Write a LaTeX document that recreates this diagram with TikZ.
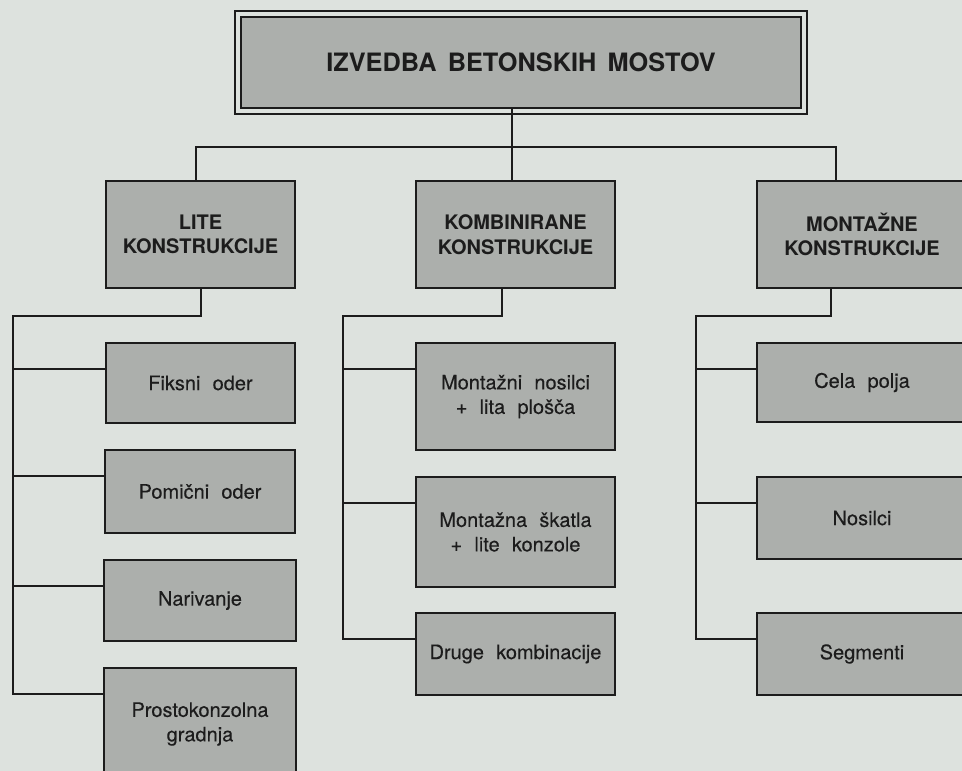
\documentclass[tikz,border=0pt]{standalone}
\usepackage{fontspec}
\setmainfont{TeX Gyre Heros}
\newfontfamily\wideheros[WordSpace=1.6]{TeX Gyre Heros}
\newfontfamily\leafheros[WordSpace=2.2,FakeBold=0.25]{TeX Gyre Heros}
\definecolor{bg}{RGB}{221,226,222}
\definecolor{boxfill}{RGB}{172,175,172}
\definecolor{ink}{RGB}{28,28,28}
\tikzset{
  conn/.style={draw=ink, line width=2pt},
  box/.style={draw=ink, line width=2.2pt, fill=boxfill, text=ink, align=center, inner sep=0pt},
  topstyle/.style={box, font=\wideheros\fontsize{25.3}{30}\selectfont\bfseries},
  lvltwo/.style={box, font=\fontsize{20}{24.5}\selectfont\bfseries},
  leaf/.style={box, font=\leafheros\fontsize{20}{24.5}\selectfont},
}
\begin{document}
\begin{tikzpicture}[x=1pt,y=-1pt]
\useasboundingbox (0,0) rectangle (962,771);
\fill[bg] (0,0) rectangle (962,771);
\begin{scope}
\clip (0,0) rectangle (962,771);
% top
\node[topstyle, minimum width=560pt, minimum height=91pt] (topbox) at (521,62.5) {IZVEDBA BETONSKIH MOSTOV};
\draw[draw=ink, line width=2pt] ([shift={(-5pt,5pt)}]topbox.north west) rectangle ([shift={(5pt,-5pt)}]topbox.south east);
% level 2
\node[lvltwo, minimum width=189pt, minimum height=107pt] (lite) at (200.5,234.5) {LITE\\KONSTRUKCIJE};
\node[lvltwo, minimum width=199pt, minimum height=107pt] (kom) at (515.5,234.5) {KOMBINIRANE\\KONSTRUKCIJE};
\node[lvltwo, minimum width=210pt, minimum height=107pt] (mont) at (862,234.5) {MONTAŽNE\\KONSTRUKCIJE};
% left leaves
\node[leaf, minimum width=189pt, minimum height=80pt] (fik) at (200.5,383) {Fiksni oder};
\node[leaf, minimum width=190pt, minimum height=83pt] (pom) at (200,491.5) {Pomični oder};
\node[leaf, minimum width=192pt, minimum height=81pt] (nar) at (200,600.5) {Narivanje};
\node[leaf, minimum width=192pt, minimum height=112pt] (pro) at (200,724) {Prostokonzolna\\gradnja};
% middle leaves
\node[leaf, minimum width=199pt, minimum height=107pt] (mnos) at (515.5,396.5) {Montažni nosilci\\+ lita plošča};
\node[leaf, minimum width=199pt, minimum height=110pt] (msk) at (515.5,532) {Montažna škatla\\+ lite konzole};
\node[leaf, minimum width=199pt, minimum height=82pt] (dru) at (515.5,654) {Druge kombinacije};
% right leaves
\node[leaf, minimum width=210pt, minimum height=79pt] (cel) at (862,382.5) {Cela polja};
\node[leaf, minimum width=210pt, minimum height=82pt] (nos) at (862,518) {Nosilci};
\node[leaf, minimum width=210pt, minimum height=82pt] (seg) at (862,654) {Segmenti};
% helper coordinates
\coordinate (busy) at (0,146.5);
\coordinate (lx) at (196,0);
\coordinate (cx) at (512,0);
\coordinate (rx) at (836,0);
\coordinate (sy) at (0,316);
\coordinate (kx) at (502,0);
\coordinate (mx) at (831,0);
\coordinate (lv) at (12.5,0);
\coordinate (mv) at (343,0);
\coordinate (rv) at (695.5,0);
\foreach \n in {fik,pom,nar,pro,mnos,msk,dru,cel,nos,seg}{
  \coordinate (b\n) at ([yshift=-27pt]\n.north west);
}
% level 1 connectors
\draw[conn] (topbox.south -| cx) -- (busy -| cx) -- (kom.north -| cx);
\draw[conn] (lite.north -| lx) -- (busy -| lx) -- (busy -| rx) -- (mont.north -| rx);
% left column
\draw[conn] (lite.south) |- (lv |- sy) -- (lv |- bpro) -- (bpro);
\draw[conn] (lv |- bfik) -- (bfik);
\draw[conn] (lv |- bpom) -- (bpom);
\draw[conn] (lv |- bnar) -- (bnar);
% middle column
\draw[conn] (kom.south -| kx) |- (mv |- sy) -- (mv |- bdru) -- (bdru);
\draw[conn] (mv |- bmnos) -- (bmnos);
\draw[conn] (mv |- bmsk) -- (bmsk);
% right column
\draw[conn] (mont.south -| mx) |- (rv |- sy) -- (rv |- bseg) -- (bseg);
\draw[conn] (rv |- bcel) -- (bcel);
\draw[conn] (rv |- bnos) -- (bnos);
\end{scope}
\end{tikzpicture}
\end{document}
